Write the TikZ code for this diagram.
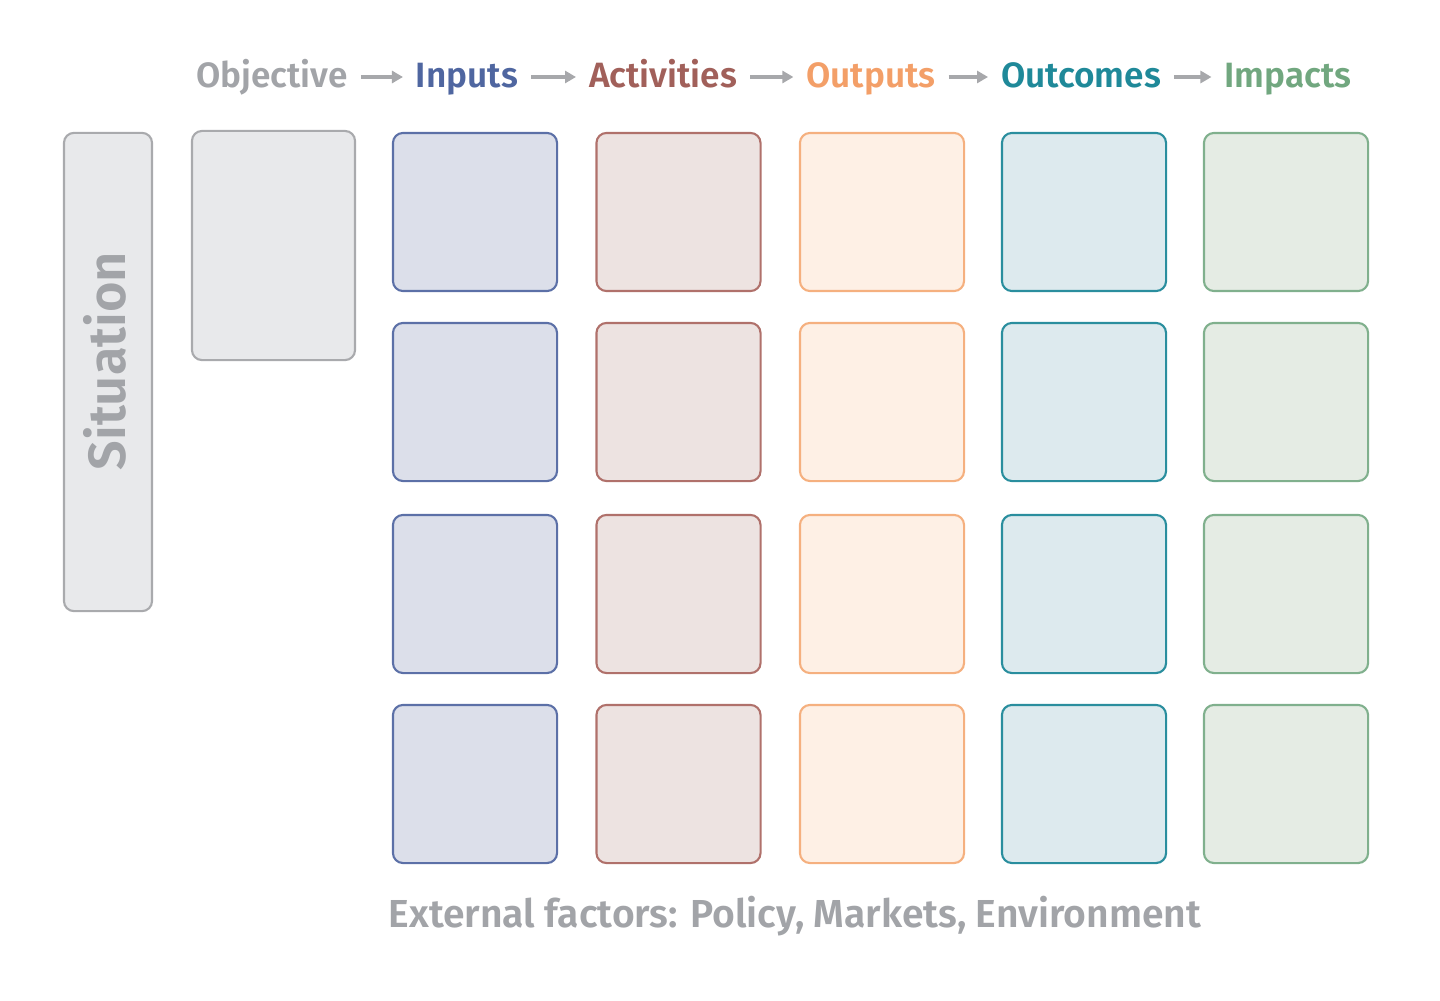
\documentclass[tikz,border=0pt]{standalone}
\usepackage{fontspec}
\setmainfont{Fira Sans}
\newfontfamily\headfont{Fira Sans SemiBold}
\usetikzlibrary{arrows.meta,positioning}
\definecolor{arrowGray}{HTML}{A7A8AB}
\definecolor{objectiveText}{HTML}{A2A4A8}
\definecolor{objectiveLine}{HTML}{A9AAAD}
\definecolor{objectiveFill}{HTML}{E8E9EB}
\definecolor{inputsText}{HTML}{4F66A0}
\definecolor{inputsLine}{HTML}{5C70A7}
\definecolor{inputsFill}{HTML}{DCDFEA}
\definecolor{activitiesText}{HTML}{A1605A}
\definecolor{activitiesLine}{HTML}{B0716B}
\definecolor{activitiesFill}{HTML}{EDE3E1}
\definecolor{outputsText}{HTML}{F39F68}
\definecolor{outputsLine}{HTML}{F5B07F}
\definecolor{outputsFill}{HTML}{FEF0E5}
\definecolor{outcomesText}{HTML}{1F8999}
\definecolor{outcomesLine}{HTML}{2A8E9E}
\definecolor{outcomesFill}{HTML}{DDEAEE}
\definecolor{impactsText}{HTML}{71A77F}
\definecolor{impactsLine}{HTML}{80B08D}
\definecolor{impactsFill}{HTML}{E5ECE4}

\begin{document}
\begin{tikzpicture}[
  x=0.01cm, y=-0.01cm,
  font=\headfont,
  >={Triangle[length=0.11cm, width=0.12cm]},
  cell/.style={draw=#1Line, fill=#1Fill, line width=0.6pt, rounded corners=0.1cm,
    minimum width=1.64cm, minimum height=1.58cm, inner sep=0pt},
  head/.style={text=#1Text, anchor=base, inner xsep=0.13cm, outer sep=0pt,
    font=\headfont\fontsize{10}{12}\selectfont},
  flow/.style={->, line width=1pt, arrowGray}
]
  \useasboundingbox (0,0) rectangle (1440,1000);

  % ----------------------------------------------------
  % Situation and objective
  % ----------------------------------------------------
  \node[cell=objective, minimum width=0.88cm, minimum height=4.78cm] (situation) at (108,372) {};
  \node[rotate=90, anchor=base, inner sep=0pt, text=objectiveText,
    font=\headfont\fontsize{14.9}{18}\selectfont] (sitlabel) at (125,361) {Situation};
  \node[cell=objective, minimum width=1.63cm, minimum height=2.29cm] (objbox) at (273.5,245.5) {};

  % ----------------------------------------------------
  % Header row
  % ----------------------------------------------------
  \node[head=objective] (h0) at (272,87) {Objective};
  \foreach \col/\x/\label [count=\i] in {inputs/467/Inputs, activities/663/Activities,
      outputs/871/Outputs, outcomes/1081/Outcomes, impacts/1288/Impacts} {
    \node[head=\col] (h\i) at (\x,87) {\label};
  }
  \foreach \a [count=\b] in {0,...,4} {
    \draw[flow] ([yshift=0.1cm]h\a.base east) -- ([yshift=0.1cm]h\b.base west);
  }

  % ----------------------------------------------------
  % Grid of cells
  % ----------------------------------------------------
  \foreach \col/\x [count=\i] in {inputs/475, activities/678.5, outputs/882, outcomes/1084, impacts/1286} {
    \foreach \y [count=\j] in {212,402,594,784} {
      \node[cell=\col] (c\i-\j) at (\x,\y) {};
    }
  }

  % External factors
  \node[text=objectiveText, anchor=base, font=\headfont\fontsize{11.1}{14}\selectfont] (external) at (795,927)
    {External factors: Policy, Markets, Environment};

\end{tikzpicture}
\end{document}
